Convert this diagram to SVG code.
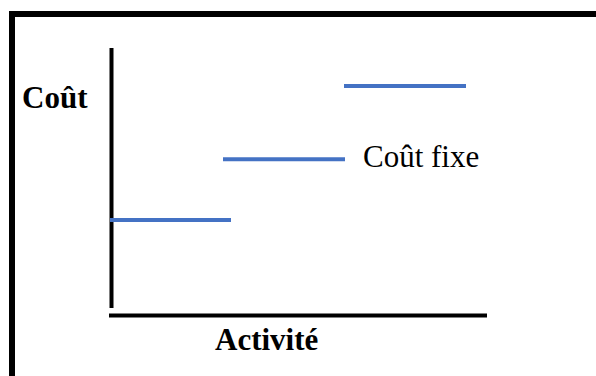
<svg xmlns="http://www.w3.org/2000/svg" width="596" height="376" viewBox="0 0 596 376">
  <style>
    .axis { stroke: #000; stroke-width: 4; fill: none; }
    .step { stroke: #4472C4; stroke-width: 4; fill: none; }
    .lbl { font-family: "Liberation Serif", "Times New Roman", serif; font-size: 31px; fill: #000; }
    .bold { font-weight: bold; }
  </style>
  <rect x="0" y="0" width="596" height="376" fill="#fff"/>
  <rect x="12" y="14" width="610" height="400" fill="none" stroke="#000" stroke-width="6"/>
  <g id="axes">
    <line class="axis" x1="111.5" y1="48" x2="111.5" y2="308"/>
    <line class="axis" x1="109" y1="315.5" x2="487" y2="315.5"/>
  </g>
  <g id="connectors">
    <line class="step" x1="110" y1="220" x2="231" y2="220"/>
    <line class="step" x1="223" y1="159.3" x2="345" y2="159.3"/>
    <line class="step" x1="344" y1="86" x2="466" y2="86"/>
  </g>
  <g id="label-cout">
    <text class="lbl bold" x="22" y="108">Coût</text>
  </g>
  <g id="label-cout-fixe">
    <text class="lbl" x="363" y="167">Coût fixe</text>
  </g>
  <g id="label-activite">
    <text class="lbl bold" x="215" y="350">Activité</text>
  </g>
</svg>
